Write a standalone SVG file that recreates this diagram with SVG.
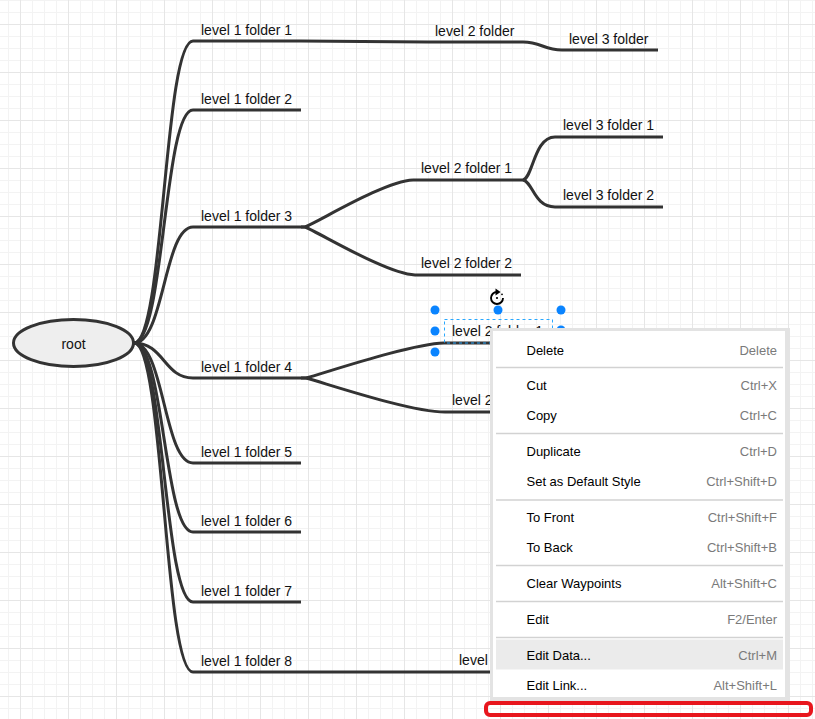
<svg xmlns="http://www.w3.org/2000/svg" width="815" height="719" viewBox="0 0 815 719">
<defs>
<pattern id="grid" x="20" y="24" width="48" height="48" patternUnits="userSpaceOnUse">
<path d="M12.5,0V48M24.5,0V48M36.5,0V48M0,12.5H48M0,24.5H48M0,36.5H48" stroke="#f3f3f3" stroke-width="1" fill="none"/>
<path d="M0.5,0V48M0,0.5H48" stroke="#e6e6e6" stroke-width="1" fill="none"/>
</pattern>
</defs>
<style>
.edge{fill:none;stroke:#333;stroke-width:3}
.bar{fill:none;stroke:#333;stroke-width:3.2}
.lbl{font-family:"Liberation Sans",Arial,sans-serif;font-size:14px;fill:#111}
.mi{font-family:"Liberation Sans",Arial,sans-serif;font-size:13px;fill:#000}
.sc{font-family:"Liberation Sans",Arial,sans-serif;font-size:13px;fill:#7a7a7a;text-anchor:end}
.sep{stroke:#d2d2d2;stroke-width:1.5}
.h{fill:#0a84ff}
</style>
<rect width="815" height="719" fill="#fff"/>
<rect width="815" height="719" fill="url(#grid)"/>

<g id="connectors">
<path class="edge" d="M134,343 C164,343 164,41 193,41"/>
<path class="edge" d="M134,343 C164,343 164,110 193,110"/>
<path class="edge" d="M134,343 C164,343 164,227 193,227"/>
<path class="edge" d="M134,343 C164,343 164,378 193,378"/>
<path class="edge" d="M134,343 C164,343 164,463 193,463"/>
<path class="edge" d="M134,343 C164,343 164,532 193,532"/>
<path class="edge" d="M134,343 C164,343 164,602 193,602"/>
<path class="edge" d="M134,343 C164,343 164,672 193,672"/>
<path class="edge" d="M301,41 C340,41 390,42 428,42"/>
<path class="edge" d="M523,42 C541,42 544,50 562,50"/>
<path class="edge" d="M301,227 L305,227 C320,221 385,181 413,180"/>
<path class="edge" d="M301,227 L305,227 C320,233 387,274 415,275"/>
<path class="edge" d="M523,180 C533,178 534,137 555,137"/>
<path class="edge" d="M523,180 C533,182 534,207 555,207"/>
<path class="edge" d="M301,378 L306,378 C325,373 410,344 444,343"/>
<path class="edge" d="M301,378 L306,378 C325,383 410,412 445,412"/>
<path class="edge" d="M301,672 L449,672"/>
</g>

<g id="root">
<ellipse cx="73.5" cy="343" rx="60" ry="23.5" fill="#eeeeee" stroke="#333" stroke-width="3"/>
<text class="lbl" x="73.5" y="348.5" text-anchor="middle">root</text>
</g>

<g id="l1f1"><path class="bar" d="M193,41H301"/><text class="lbl" x="201" y="34.5">level 1 folder 1</text></g>
<g id="l1f2"><path class="bar" d="M193,110H301"/><text class="lbl" x="201" y="103.5">level 1 folder 2</text></g>
<g id="l1f3"><path class="bar" d="M193,227H301"/><text class="lbl" x="201" y="220.5">level 1 folder 3</text></g>
<g id="l1f4"><path class="bar" d="M193,378H301"/><text class="lbl" x="201" y="371.5">level 1 folder 4</text></g>
<g id="l1f5"><path class="bar" d="M193,463H301"/><text class="lbl" x="201" y="456.5">level 1 folder 5</text></g>
<g id="l1f6"><path class="bar" d="M193,532H301"/><text class="lbl" x="201" y="525.5">level 1 folder 6</text></g>
<g id="l1f7"><path class="bar" d="M193,602H301"/><text class="lbl" x="201" y="595.5">level 1 folder 7</text></g>
<g id="l1f8"><path class="bar" d="M193,672H301"/><text class="lbl" x="201" y="665.5">level 1 folder 8</text></g>

<g id="l2f1a"><path class="bar" d="M428,42H523"/><text class="lbl" x="435" y="35.5">level 2 folder</text></g>
<g id="l3f1a"><path class="bar" d="M562,50H658"/><text class="lbl" x="569" y="44">level 3 folder</text></g>
<g id="l2f3a"><path class="bar" d="M413,180H523"/><text class="lbl" x="421" y="173">level 2 folder 1</text></g>
<g id="l3f3a"><path class="bar" d="M555,137H663"/><text class="lbl" x="563" y="130">level 3 folder 1</text></g>
<g id="l3f3b"><path class="bar" d="M555,207H663"/><text class="lbl" x="563" y="200">level 3 folder 2</text></g>
<g id="l2f3b"><path class="bar" d="M415,275H521"/><text class="lbl" x="421" y="268">level 2 folder 2</text></g>
<g id="l2f4a"><path class="bar" d="M444,343H552"/><text class="lbl" x="452" y="336">level 2 folder 1</text></g>
<g id="l2f4b"><path class="bar" d="M445,412H553"/><text class="lbl" x="452" y="405">level 2</text></g>
<g id="l2f8"><path class="bar" d="M449,672H557"/><text class="lbl" x="459" y="665">level</text></g>

<g id="selection">
<rect x="444.5" y="319.5" width="108" height="23.5" fill="none" stroke="#29a8ff" stroke-width="1" stroke-dasharray="3,3"/>
<circle class="h" cx="435" cy="310" r="4.5"/>
<circle class="h" cx="498" cy="310" r="4.5"/>
<circle class="h" cx="561" cy="310" r="4.5"/>
<circle class="h" cx="435" cy="331" r="4.5"/>
<circle class="h" cx="561" cy="330" r="4.5"/>
<circle class="h" cx="435" cy="352" r="4.5"/>
<path d="M497,292 A6,6 0 1 0 503,298" fill="none" stroke="#000" stroke-width="1.9"/>
<polygon points="495.5,288.6 500.6,292 495.5,295.4" fill="#000"/>
<circle cx="502" cy="294.3" r="0.9" fill="#000"/>
<circle cx="497" cy="298" r="1.1" fill="#000"/>
</g>

<g id="context-menu">
<rect x="490" y="328" width="300" height="373" fill="#e3e3e3"/>
<rect x="493" y="331" width="292" height="366" fill="#fff"/>
<rect x="496" y="639.5" width="287" height="30" fill="#ebebeb"/>
<line class="sep" x1="496" y1="367.5" x2="783" y2="367.5"/>
<line class="sep" x1="496" y1="433.5" x2="783" y2="433.5"/>
<line class="sep" x1="496" y1="500" x2="783" y2="500"/>
<line class="sep" x1="496" y1="565.5" x2="783" y2="565.5"/>
<line class="sep" x1="496" y1="601.5" x2="783" y2="601.5"/>
<line class="sep" x1="496" y1="637.5" x2="783" y2="637.5"/>
<text class="mi" x="526.5" y="354.5">Delete</text><text class="sc" x="777" y="354.5">Delete</text>
<text class="mi" x="526.5" y="390">Cut</text><text class="sc" x="777" y="390">Ctrl+X</text>
<text class="mi" x="526.5" y="420">Copy</text><text class="sc" x="777" y="420">Ctrl+C</text>
<text class="mi" x="526.5" y="456">Duplicate</text><text class="sc" x="777" y="456">Ctrl+D</text>
<text class="mi" x="526.5" y="486">Set as Default Style</text><text class="sc" x="777" y="486">Ctrl+Shift+D</text>
<text class="mi" x="526.5" y="522">To Front</text><text class="sc" x="777" y="522">Ctrl+Shift+F</text>
<text class="mi" x="526.5" y="552">To Back</text><text class="sc" x="777" y="552">Ctrl+Shift+B</text>
<text class="mi" x="526.5" y="588">Clear Waypoints</text><text class="sc" x="777" y="588">Alt+Shift+C</text>
<text class="mi" x="526.5" y="624">Edit</text><text class="sc" x="777" y="624">F2/Enter</text>
<text class="mi" x="526.5" y="660">Edit Data...</text><text class="sc" x="777" y="660">Ctrl+M</text>
<text class="mi" x="526.5" y="690">Edit Link...</text><text class="sc" x="777" y="690">Alt+Shift+L</text>
</g>

<rect id="highlight" x="486" y="703" width="325" height="12" rx="4" fill="none" stroke="#e8161d" stroke-width="4"/>
</svg>
